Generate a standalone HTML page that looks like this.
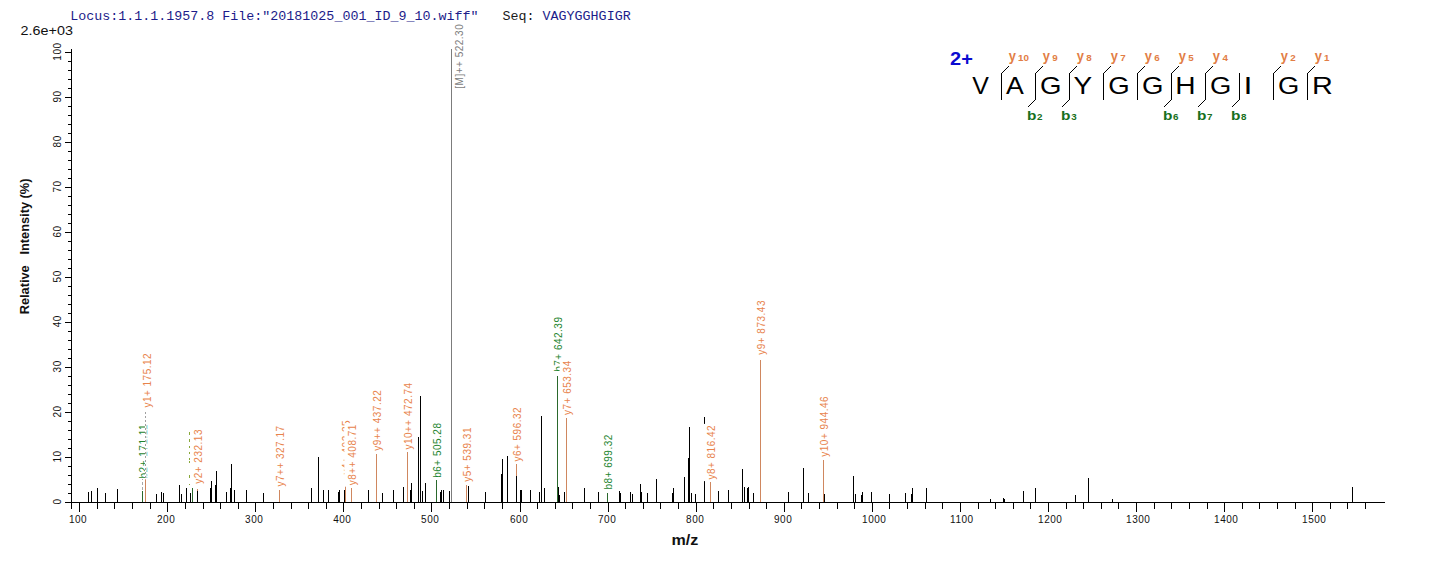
<!DOCTYPE html><html><head><meta charset="utf-8"><title>spectrum</title><style>html,body{margin:0;padding:0;background:#fff;overflow:hidden}svg{display:block}text{font-family:"Liberation Sans",sans-serif}</style></head><body>
<svg width="1436" height="562" viewBox="0 0 1436 562">
<rect width="1436" height="562" fill="#fff"/>
<text transform="translate(70.15,19.8) scale(1.0022,1)" style="font-family:'Liberation Mono',monospace;font-size:13.33px" fill="#1c1c8a" xml:space="preserve">Locus:1.1.1.1957.8 File:"20181025_001_ID_9_10.wiff"   <tspan fill="#1a1a1a">Seq:</tspan> VAGYGGHGIGR</text>
<text transform="translate(20.58,34.90) scale(1.1142,1)" style="font-family:'Liberation Sans',sans-serif;font-size:12.9px;" fill="#111" xml:space="preserve">2.6e+03</text>
<g stroke-width="1" shape-rendering="crispEdges">
<line x1="88.5" y1="502" x2="88.5" y2="491.7" stroke="#000"/>
<line x1="91.5" y1="502" x2="91.5" y2="490.8" stroke="#000"/>
<line x1="97.5" y1="502" x2="97.5" y2="488.1" stroke="#000"/>
<line x1="105.5" y1="502" x2="105.5" y2="493.1" stroke="#000"/>
<line x1="117.5" y1="502" x2="117.5" y2="489.0" stroke="#000"/>
<line x1="142.5" y1="502" x2="142.5" y2="490.8" stroke="#2a682c"/>
<line x1="145.5" y1="502" x2="145.5" y2="478.6" stroke="#cf875f"/>
<line x1="156.5" y1="502" x2="156.5" y2="493.9" stroke="#000"/>
<line x1="161.5" y1="502" x2="161.5" y2="492.1" stroke="#000"/>
<line x1="163.5" y1="502" x2="163.5" y2="493.1" stroke="#000"/>
<line x1="179.5" y1="502" x2="179.5" y2="484.9" stroke="#000"/>
<line x1="181.5" y1="502" x2="181.5" y2="493.9" stroke="#000"/>
<line x1="186.5" y1="502" x2="186.5" y2="488.1" stroke="#000"/>
<line x1="190.5" y1="502" x2="190.5" y2="493.1" stroke="#000"/>
<line x1="192.5" y1="502" x2="192.5" y2="488.1" stroke="#2a682c"/>
<line x1="197.5" y1="502" x2="197.5" y2="488.6" stroke="#cf875f"/>
<line x1="197.5" y1="502" x2="197.5" y2="491.2" stroke="#000"/>
<line x1="210.5" y1="502" x2="210.5" y2="488.1" stroke="#000"/>
<line x1="211.5" y1="502" x2="211.5" y2="480.9" stroke="#000"/>
<line x1="215.5" y1="502" x2="215.5" y2="484.9" stroke="#000"/>
<line x1="216.5" y1="502" x2="216.5" y2="471.0" stroke="#000"/>
<line x1="226.5" y1="502" x2="226.5" y2="492.1" stroke="#000"/>
<line x1="230.5" y1="502" x2="230.5" y2="488.1" stroke="#000"/>
<line x1="231.5" y1="502" x2="231.5" y2="464.2" stroke="#000"/>
<line x1="234.5" y1="502" x2="234.5" y2="489.9" stroke="#000"/>
<line x1="246.5" y1="502" x2="246.5" y2="489.9" stroke="#000"/>
<line x1="263.5" y1="502" x2="263.5" y2="493.1" stroke="#000"/>
<line x1="279.5" y1="502" x2="279.5" y2="489.9" stroke="#cf875f"/>
<line x1="311.5" y1="502" x2="311.5" y2="488.1" stroke="#000"/>
<line x1="318.5" y1="502" x2="318.5" y2="457.1" stroke="#000"/>
<line x1="323.5" y1="502" x2="323.5" y2="489.9" stroke="#000"/>
<line x1="328.5" y1="502" x2="328.5" y2="489.9" stroke="#000"/>
<line x1="338.5" y1="502" x2="338.5" y2="492.1" stroke="#000"/>
<line x1="339.5" y1="502" x2="339.5" y2="489.9" stroke="#000"/>
<line x1="344.5" y1="502" x2="344.5" y2="489.9" stroke="#000"/>
<line x1="345.5" y1="502" x2="345.5" y2="486.3" stroke="#cf875f"/>
<line x1="351.5" y1="502" x2="351.5" y2="488.1" stroke="#cf875f"/>
<line x1="368.5" y1="502" x2="368.5" y2="489.9" stroke="#000"/>
<line x1="376.5" y1="502" x2="376.5" y2="453.9" stroke="#cf875f"/>
<line x1="382.5" y1="502" x2="382.5" y2="493.1" stroke="#000"/>
<line x1="393.5" y1="502" x2="393.5" y2="489.9" stroke="#000"/>
<line x1="403.5" y1="502" x2="403.5" y2="487.2" stroke="#000"/>
<line x1="407.5" y1="502" x2="407.5" y2="451.6" stroke="#cf875f"/>
<line x1="410.5" y1="502" x2="410.5" y2="489.9" stroke="#000"/>
<line x1="411.5" y1="502" x2="411.5" y2="483.1" stroke="#000"/>
<line x1="418.5" y1="502" x2="418.5" y2="437.2" stroke="#000"/>
<line x1="420.5" y1="502" x2="420.5" y2="395.9" stroke="#000"/>
<line x1="422.5" y1="502" x2="422.5" y2="490.8" stroke="#000"/>
<line x1="425.5" y1="502" x2="425.5" y2="483.1" stroke="#000"/>
<line x1="436.5" y1="502" x2="436.5" y2="480.4" stroke="#2a682c"/>
<line x1="440.5" y1="502" x2="440.5" y2="492.1" stroke="#000"/>
<line x1="441.5" y1="502" x2="441.5" y2="489.9" stroke="#000"/>
<line x1="443.5" y1="502" x2="443.5" y2="489.9" stroke="#000"/>
<line x1="449.5" y1="502" x2="449.5" y2="490.8" stroke="#000"/>
<line x1="466.5" y1="502" x2="466.5" y2="484.9" stroke="#cf875f"/>
<line x1="468.5" y1="502" x2="468.5" y2="485.9" stroke="#000"/>
<line x1="485.5" y1="502" x2="485.5" y2="492.1" stroke="#000"/>
<line x1="501.5" y1="502" x2="501.5" y2="474.1" stroke="#000"/>
<line x1="502.5" y1="502" x2="502.5" y2="459.3" stroke="#000"/>
<line x1="507.5" y1="502" x2="507.5" y2="456.1" stroke="#000"/>
<line x1="516.5" y1="502" x2="516.5" y2="463.8" stroke="#cf875f"/>
<line x1="516.5" y1="502" x2="516.5" y2="475.9" stroke="#000"/>
<line x1="520.5" y1="502" x2="520.5" y2="489.9" stroke="#000"/>
<line x1="521.5" y1="502" x2="521.5" y2="489.9" stroke="#000"/>
<line x1="530.5" y1="502" x2="530.5" y2="489.9" stroke="#000"/>
<line x1="539.5" y1="502" x2="539.5" y2="492.1" stroke="#000"/>
<line x1="541.5" y1="502" x2="541.5" y2="416.1" stroke="#000"/>
<line x1="544.5" y1="502" x2="544.5" y2="488.1" stroke="#000"/>
<line x1="557.5" y1="502" x2="557.5" y2="375.6" stroke="#2a682c"/>
<line x1="558.5" y1="502" x2="558.5" y2="487.2" stroke="#000"/>
<line x1="559.5" y1="502" x2="559.5" y2="494.9" stroke="#000"/>
<line x1="564.5" y1="502" x2="564.5" y2="492.1" stroke="#000"/>
<line x1="566.5" y1="502" x2="566.5" y2="418.4" stroke="#cf875f"/>
<line x1="584.5" y1="502" x2="584.5" y2="488.1" stroke="#000"/>
<line x1="598.5" y1="502" x2="598.5" y2="492.1" stroke="#000"/>
<line x1="607.5" y1="502" x2="607.5" y2="492.6" stroke="#2a682c"/>
<line x1="619.5" y1="502" x2="619.5" y2="490.8" stroke="#000"/>
<line x1="620.5" y1="502" x2="620.5" y2="493.1" stroke="#000"/>
<line x1="630.5" y1="502" x2="630.5" y2="492.1" stroke="#000"/>
<line x1="632.5" y1="502" x2="632.5" y2="493.9" stroke="#000"/>
<line x1="640.5" y1="502" x2="640.5" y2="484.1" stroke="#000"/>
<line x1="641.5" y1="502" x2="641.5" y2="492.1" stroke="#000"/>
<line x1="647.5" y1="502" x2="647.5" y2="493.1" stroke="#000"/>
<line x1="656.5" y1="502" x2="656.5" y2="479.1" stroke="#000"/>
<line x1="672.5" y1="502" x2="672.5" y2="493.1" stroke="#000"/>
<line x1="673.5" y1="502" x2="673.5" y2="488.1" stroke="#000"/>
<line x1="684.5" y1="502" x2="684.5" y2="476.9" stroke="#000"/>
<line x1="688.5" y1="502" x2="688.5" y2="457.9" stroke="#000"/>
<line x1="689.5" y1="502" x2="689.5" y2="426.9" stroke="#000"/>
<line x1="691.5" y1="502" x2="691.5" y2="493.1" stroke="#000"/>
<line x1="695.5" y1="502" x2="695.5" y2="493.9" stroke="#000"/>
<line x1="704.5" y1="502" x2="704.5" y2="416.6" stroke="#000"/>
<line x1="710.5" y1="502" x2="710.5" y2="482.2" stroke="#cf875f"/>
<line x1="718.5" y1="502" x2="718.5" y2="490.8" stroke="#000"/>
<line x1="728.5" y1="502" x2="728.5" y2="489.9" stroke="#000"/>
<line x1="742.5" y1="502" x2="742.5" y2="468.8" stroke="#000"/>
<line x1="744.5" y1="502" x2="744.5" y2="487.2" stroke="#000"/>
<line x1="747.5" y1="502" x2="747.5" y2="488.1" stroke="#000"/>
<line x1="748.5" y1="502" x2="748.5" y2="487.2" stroke="#000"/>
<line x1="753.5" y1="502" x2="753.5" y2="493.1" stroke="#000"/>
<line x1="760.5" y1="502" x2="760.5" y2="359.9" stroke="#cf875f"/>
<line x1="788.5" y1="502" x2="788.5" y2="492.1" stroke="#000"/>
<line x1="803.5" y1="502" x2="803.5" y2="467.9" stroke="#000"/>
<line x1="808.5" y1="502" x2="808.5" y2="493.1" stroke="#000"/>
<line x1="823.5" y1="502" x2="823.5" y2="459.8" stroke="#cf875f"/>
<line x1="824.5" y1="502" x2="824.5" y2="493.9" stroke="#000"/>
<line x1="853.5" y1="502" x2="853.5" y2="475.9" stroke="#000"/>
<line x1="855.5" y1="502" x2="855.5" y2="493.9" stroke="#000"/>
<line x1="861.5" y1="502" x2="861.5" y2="494.9" stroke="#000"/>
<line x1="862.5" y1="502" x2="862.5" y2="492.1" stroke="#000"/>
<line x1="871.5" y1="502" x2="871.5" y2="492.1" stroke="#000"/>
<line x1="889.5" y1="502" x2="889.5" y2="493.9" stroke="#000"/>
<line x1="905.5" y1="502" x2="905.5" y2="493.1" stroke="#000"/>
<line x1="911.5" y1="502" x2="911.5" y2="493.9" stroke="#000"/>
<line x1="912.5" y1="502" x2="912.5" y2="488.1" stroke="#000"/>
<line x1="926.5" y1="502" x2="926.5" y2="488.1" stroke="#000"/>
<line x1="990.5" y1="502" x2="990.5" y2="498.9" stroke="#000"/>
<line x1="1003.5" y1="502" x2="1003.5" y2="498.0" stroke="#000"/>
<line x1="1004.5" y1="502" x2="1004.5" y2="498.9" stroke="#000"/>
<line x1="1023.5" y1="502" x2="1023.5" y2="490.8" stroke="#000"/>
<line x1="1035.5" y1="502" x2="1035.5" y2="488.1" stroke="#000"/>
<line x1="1075.5" y1="502" x2="1075.5" y2="494.9" stroke="#000"/>
<line x1="1088.5" y1="502" x2="1088.5" y2="478.2" stroke="#000"/>
<line x1="1112.5" y1="502" x2="1112.5" y2="498.9" stroke="#000"/>
<line x1="1352.5" y1="502" x2="1352.5" y2="487.2" stroke="#000"/>
<line x1="451.5" y1="502" x2="451.5" y2="49" stroke="#7c7c7c"/>
</g>
<g stroke="#000" stroke-width="1" shape-rendering="crispEdges">
<line x1="71.5" y1="49" x2="71.5" y2="509"/>
<line x1="65" y1="502.5" x2="1385" y2="502.5"/>
<line x1="65" y1="52.5" x2="71" y2="52.5"/>
<line x1="65" y1="97.5" x2="71" y2="97.5"/>
<line x1="65" y1="142.5" x2="71" y2="142.5"/>
<line x1="65" y1="187.5" x2="71" y2="187.5"/>
<line x1="65" y1="232.5" x2="71" y2="232.5"/>
<line x1="65" y1="277.5" x2="71" y2="277.5"/>
<line x1="65" y1="322.5" x2="71" y2="322.5"/>
<line x1="65" y1="367.5" x2="71" y2="367.5"/>
<line x1="65" y1="412.5" x2="71" y2="412.5"/>
<line x1="65" y1="457.5" x2="71" y2="457.5"/>
<line x1="65" y1="502.5" x2="71" y2="502.5"/>
<line x1="68" y1="52.5" x2="71" y2="52.5"/>
<line x1="68" y1="61.5" x2="71" y2="61.5"/>
<line x1="68" y1="70.5" x2="71" y2="70.5"/>
<line x1="68" y1="79.5" x2="71" y2="79.5"/>
<line x1="68" y1="88.5" x2="71" y2="88.5"/>
<line x1="68" y1="97.5" x2="71" y2="97.5"/>
<line x1="68" y1="106.5" x2="71" y2="106.5"/>
<line x1="68" y1="115.5" x2="71" y2="115.5"/>
<line x1="68" y1="124.5" x2="71" y2="124.5"/>
<line x1="68" y1="133.5" x2="71" y2="133.5"/>
<line x1="68" y1="142.5" x2="71" y2="142.5"/>
<line x1="68" y1="151.5" x2="71" y2="151.5"/>
<line x1="68" y1="160.5" x2="71" y2="160.5"/>
<line x1="68" y1="169.5" x2="71" y2="169.5"/>
<line x1="68" y1="178.5" x2="71" y2="178.5"/>
<line x1="68" y1="187.5" x2="71" y2="187.5"/>
<line x1="68" y1="196.5" x2="71" y2="196.5"/>
<line x1="68" y1="205.5" x2="71" y2="205.5"/>
<line x1="68" y1="214.5" x2="71" y2="214.5"/>
<line x1="68" y1="223.5" x2="71" y2="223.5"/>
<line x1="68" y1="232.5" x2="71" y2="232.5"/>
<line x1="68" y1="241.5" x2="71" y2="241.5"/>
<line x1="68" y1="250.5" x2="71" y2="250.5"/>
<line x1="68" y1="259.5" x2="71" y2="259.5"/>
<line x1="68" y1="268.5" x2="71" y2="268.5"/>
<line x1="68" y1="277.5" x2="71" y2="277.5"/>
<line x1="68" y1="286.5" x2="71" y2="286.5"/>
<line x1="68" y1="295.5" x2="71" y2="295.5"/>
<line x1="68" y1="304.5" x2="71" y2="304.5"/>
<line x1="68" y1="313.5" x2="71" y2="313.5"/>
<line x1="68" y1="322.5" x2="71" y2="322.5"/>
<line x1="68" y1="331.5" x2="71" y2="331.5"/>
<line x1="68" y1="340.5" x2="71" y2="340.5"/>
<line x1="68" y1="349.5" x2="71" y2="349.5"/>
<line x1="68" y1="358.5" x2="71" y2="358.5"/>
<line x1="68" y1="367.5" x2="71" y2="367.5"/>
<line x1="68" y1="376.5" x2="71" y2="376.5"/>
<line x1="68" y1="385.5" x2="71" y2="385.5"/>
<line x1="68" y1="394.5" x2="71" y2="394.5"/>
<line x1="68" y1="403.5" x2="71" y2="403.5"/>
<line x1="68" y1="412.5" x2="71" y2="412.5"/>
<line x1="68" y1="421.5" x2="71" y2="421.5"/>
<line x1="68" y1="430.5" x2="71" y2="430.5"/>
<line x1="68" y1="439.5" x2="71" y2="439.5"/>
<line x1="68" y1="448.5" x2="71" y2="448.5"/>
<line x1="68" y1="457.5" x2="71" y2="457.5"/>
<line x1="68" y1="466.5" x2="71" y2="466.5"/>
<line x1="68" y1="475.5" x2="71" y2="475.5"/>
<line x1="68" y1="484.5" x2="71" y2="484.5"/>
<line x1="68" y1="493.5" x2="71" y2="493.5"/>
<line x1="79.5" y1="503" x2="79.5" y2="512"/>
<line x1="97.5" y1="503" x2="97.5" y2="509"/>
<line x1="114.5" y1="503" x2="114.5" y2="509"/>
<line x1="132.5" y1="503" x2="132.5" y2="509"/>
<line x1="150.5" y1="503" x2="150.5" y2="509"/>
<line x1="167.5" y1="503" x2="167.5" y2="512"/>
<line x1="185.5" y1="503" x2="185.5" y2="509"/>
<line x1="203.5" y1="503" x2="203.5" y2="509"/>
<line x1="220.5" y1="503" x2="220.5" y2="509"/>
<line x1="238.5" y1="503" x2="238.5" y2="509"/>
<line x1="255.5" y1="503" x2="255.5" y2="512"/>
<line x1="273.5" y1="503" x2="273.5" y2="509"/>
<line x1="291.5" y1="503" x2="291.5" y2="509"/>
<line x1="308.5" y1="503" x2="308.5" y2="509"/>
<line x1="326.5" y1="503" x2="326.5" y2="509"/>
<line x1="343.5" y1="503" x2="343.5" y2="512"/>
<line x1="361.5" y1="503" x2="361.5" y2="509"/>
<line x1="379.5" y1="503" x2="379.5" y2="509"/>
<line x1="396.5" y1="503" x2="396.5" y2="509"/>
<line x1="414.5" y1="503" x2="414.5" y2="509"/>
<line x1="431.5" y1="503" x2="431.5" y2="512"/>
<line x1="449.5" y1="503" x2="449.5" y2="509"/>
<line x1="467.5" y1="503" x2="467.5" y2="509"/>
<line x1="484.5" y1="503" x2="484.5" y2="509"/>
<line x1="502.5" y1="503" x2="502.5" y2="509"/>
<line x1="520.5" y1="503" x2="520.5" y2="512"/>
<line x1="537.5" y1="503" x2="537.5" y2="509"/>
<line x1="555.5" y1="503" x2="555.5" y2="509"/>
<line x1="572.5" y1="503" x2="572.5" y2="509"/>
<line x1="590.5" y1="503" x2="590.5" y2="509"/>
<line x1="608.5" y1="503" x2="608.5" y2="512"/>
<line x1="625.5" y1="503" x2="625.5" y2="509"/>
<line x1="643.5" y1="503" x2="643.5" y2="509"/>
<line x1="660.5" y1="503" x2="660.5" y2="509"/>
<line x1="678.5" y1="503" x2="678.5" y2="509"/>
<line x1="696.5" y1="503" x2="696.5" y2="512"/>
<line x1="713.5" y1="503" x2="713.5" y2="509"/>
<line x1="731.5" y1="503" x2="731.5" y2="509"/>
<line x1="749.5" y1="503" x2="749.5" y2="509"/>
<line x1="766.5" y1="503" x2="766.5" y2="509"/>
<line x1="784.5" y1="503" x2="784.5" y2="512"/>
<line x1="801.5" y1="503" x2="801.5" y2="509"/>
<line x1="819.5" y1="503" x2="819.5" y2="509"/>
<line x1="837.5" y1="503" x2="837.5" y2="509"/>
<line x1="854.5" y1="503" x2="854.5" y2="509"/>
<line x1="872.5" y1="503" x2="872.5" y2="512"/>
<line x1="889.5" y1="503" x2="889.5" y2="509"/>
<line x1="907.5" y1="503" x2="907.5" y2="509"/>
<line x1="925.5" y1="503" x2="925.5" y2="509"/>
<line x1="942.5" y1="503" x2="942.5" y2="509"/>
<line x1="960.5" y1="503" x2="960.5" y2="512"/>
<line x1="978.5" y1="503" x2="978.5" y2="509"/>
<line x1="995.5" y1="503" x2="995.5" y2="509"/>
<line x1="1013.5" y1="503" x2="1013.5" y2="509"/>
<line x1="1030.5" y1="503" x2="1030.5" y2="509"/>
<line x1="1048.5" y1="503" x2="1048.5" y2="512"/>
<line x1="1066.5" y1="503" x2="1066.5" y2="509"/>
<line x1="1083.5" y1="503" x2="1083.5" y2="509"/>
<line x1="1101.5" y1="503" x2="1101.5" y2="509"/>
<line x1="1118.5" y1="503" x2="1118.5" y2="509"/>
<line x1="1136.5" y1="503" x2="1136.5" y2="512"/>
<line x1="1154.5" y1="503" x2="1154.5" y2="509"/>
<line x1="1171.5" y1="503" x2="1171.5" y2="509"/>
<line x1="1189.5" y1="503" x2="1189.5" y2="509"/>
<line x1="1207.5" y1="503" x2="1207.5" y2="509"/>
<line x1="1224.5" y1="503" x2="1224.5" y2="512"/>
<line x1="1242.5" y1="503" x2="1242.5" y2="509"/>
<line x1="1259.5" y1="503" x2="1259.5" y2="509"/>
<line x1="1277.5" y1="503" x2="1277.5" y2="509"/>
<line x1="1295.5" y1="503" x2="1295.5" y2="509"/>
<line x1="1312.5" y1="503" x2="1312.5" y2="512"/>
<line x1="1330.5" y1="503" x2="1330.5" y2="509"/>
<line x1="1347.5" y1="503" x2="1347.5" y2="509"/>
<line x1="1365.5" y1="503" x2="1365.5" y2="509"/>
</g>
<g style="font-size:10.0px;letter-spacing:0.5px" fill="#111">
<text transform="translate(60.6,60.63) rotate(-90)">100</text>
<text transform="translate(60.6,102.45) rotate(-90)">90</text>
<text transform="translate(60.6,147.43) rotate(-90)">80</text>
<text transform="translate(60.6,192.47) rotate(-90)">70</text>
<text transform="translate(60.6,237.47) rotate(-90)">60</text>
<text transform="translate(60.6,282.42) rotate(-90)">50</text>
<text transform="translate(60.6,327.33) rotate(-90)">40</text>
<text transform="translate(60.6,372.41) rotate(-90)">30</text>
<text transform="translate(60.6,417.47) rotate(-90)">20</text>
<text transform="translate(60.6,462.60) rotate(-90)">10</text>
<text transform="translate(60.6,504.38) rotate(-90)">0</text>
<text x="68.92" y="522.5">100</text>
<text x="157.05" y="522.5">200</text>
<text x="245.11" y="522.5">300</text>
<text x="333.19" y="522.5">400</text>
<text x="421.10" y="522.5">500</text>
<text x="510.05" y="522.5">600</text>
<text x="598.05" y="522.5">700</text>
<text x="686.09" y="522.5">800</text>
<text x="774.07" y="522.5">900</text>
<text x="862.09" y="522.5">1000</text>
<text x="950.09" y="522.5">1100</text>
<text x="1038.09" y="522.5">1200</text>
<text x="1126.09" y="522.5">1300</text>
<text x="1214.09" y="522.5">1400</text>
<text x="1302.09" y="522.5">1500</text>
</g>
<text transform="translate(28.6,314.36) rotate(-90)" style="font-size:12.8px;font-weight:bold" fill="#111" xml:space="preserve">Relative   Intensity (%)</text>
<text transform="translate(671.44,544.90) scale(1.0735,1)" style="font-family:'Liberation Sans',sans-serif;font-size:15px;font-weight:bold;" fill="#111" xml:space="preserve">m/z</text>
<g style="font-size:10.0px;letter-spacing:0.5px">
<rect x="135.7" y="422.1" width="13" height="57.2" fill="#fff"/><text transform="translate(147.20,478.44) rotate(-90)" fill="#1e8530">b2+ 171.11</text>
<rect x="190.0" y="428.0" width="13" height="57.3" fill="#fff"/><text transform="translate(201.50,483.82) rotate(-90)" fill="#e8834c">y2+ 232.13</text>
<rect x="272.2" y="424.4" width="13" height="63.6" fill="#fff"/><text transform="translate(283.70,486.52) rotate(-90)" fill="#e8834c">y7++ 327.17</text>
<rect x="338.3" y="418.8" width="13" height="57.3" fill="#fff"/><text transform="translate(349.80,474.62) rotate(-90)" fill="#e8834c">y4+ 402.25</text>
<rect x="344.4" y="423.1" width="13" height="63.6" fill="#fff"/><text transform="translate(355.90,485.22) rotate(-90)" fill="#e8834c">y8++ 408.71</text>
<rect x="369.6" y="388.7" width="13" height="63.6" fill="#fff"/><text transform="translate(381.10,450.82) rotate(-90)" fill="#e8834c">y9++ 437.22</text>
<rect x="400.4" y="381.3" width="13" height="69.8" fill="#fff"/><text transform="translate(411.90,449.62) rotate(-90)" fill="#e8834c">y10++ 472.74</text>
<rect x="429.5" y="421.5" width="13" height="57.2" fill="#fff"/><text transform="translate(441.00,477.84) rotate(-90)" fill="#1e8530">b6+ 505.28</text>
<rect x="459.3" y="426.0" width="13" height="57.3" fill="#fff"/><text transform="translate(470.80,481.82) rotate(-90)" fill="#e8834c">y5+ 539.31</text>
<rect x="509.4" y="405.9" width="13" height="57.2" fill="#fff"/><text transform="translate(520.90,461.62) rotate(-90)" fill="#e8834c">y6+ 596.32</text>
<rect x="550.4" y="315.5" width="13" height="57.2" fill="#fff"/><text transform="translate(561.90,371.84) rotate(-90)" fill="#1e8530">b7+ 642.39</text>
<rect x="559.6" y="359.1" width="13" height="57.4" fill="#fff"/><text transform="translate(571.10,415.02) rotate(-90)" fill="#e8834c">y7+ 653.34</text>
<rect x="600.4" y="433.2" width="13" height="57.2" fill="#fff"/><text transform="translate(611.90,489.54) rotate(-90)" fill="#1e8530">b8+ 699.32</text>
<rect x="703.3" y="423.9" width="13" height="57.2" fill="#fff"/><text transform="translate(714.80,479.62) rotate(-90)" fill="#e8834c">y8+ 816.42</text>
<rect x="753.6" y="299.0" width="13" height="57.3" fill="#fff"/><text transform="translate(765.10,354.82) rotate(-90)" fill="#e8834c">y9+ 873.43</text>
<rect x="816.4" y="394.8" width="13" height="63.4" fill="#fff"/><text transform="translate(827.90,456.72) rotate(-90)" fill="#e8834c">y10+ 944.46</text>
<line x1="189.5" y1="432.0" x2="189.5" y2="435.0" stroke="#88a83a" shape-rendering="crispEdges"/>
<line x1="189.5" y1="439.0" x2="189.5" y2="441.5" stroke="#88a83a" shape-rendering="crispEdges"/>
<line x1="189.5" y1="445.5" x2="189.5" y2="448.0" stroke="#88a83a" shape-rendering="crispEdges"/>
<line x1="189.5" y1="451.5" x2="189.5" y2="454.0" stroke="#88a83a" shape-rendering="crispEdges"/>
<line x1="189.5" y1="457.5" x2="189.5" y2="460.0" stroke="#88a83a" shape-rendering="crispEdges"/>
<line x1="189.5" y1="461.0" x2="189.5" y2="463.0" stroke="#88a83a" shape-rendering="crispEdges"/>
<line x1="189.5" y1="475.0" x2="189.5" y2="477.5" stroke="#88a83a" shape-rendering="crispEdges"/>
<line x1="189.5" y1="483.5" x2="189.5" y2="485.0" stroke="#88a83a" shape-rendering="crispEdges"/>
<rect x="145" y="409" width="1.6" height="69" fill="#fff"/>
<line x1="145.5" y1="478" x2="145.5" y2="410" stroke="#a0a0a0" stroke-dasharray="2,2" shape-rendering="crispEdges"/>
<line x1="142.5" y1="490" x2="142.5" y2="479" stroke="#a8a8a8" stroke-dasharray="3,2" shape-rendering="crispEdges"/>
<rect x="139.4" y="351.9" width="13" height="57.2" fill="#fff"/><text transform="translate(150.90,407.62) rotate(-90)" fill="#e8834c">y1+ 175.12</text>
<text transform="translate(463.00,88.71) rotate(-90)" fill="#7c7c7c">[M]++ 522.30</text>
</g>
<text transform="translate(950.11,64.50) scale(1.1429,1)" style="font-family:'Liberation Sans',sans-serif;font-size:17.5px;font-weight:bold;" fill="#0b0bd0" xml:space="preserve">2+</text>
<text transform="translate(972.19,93.80) scale(1.0170,1)" style="font-family:'Liberation Sans',sans-serif;font-size:24.5px;" fill="#000" xml:space="preserve">V</text>
<text transform="translate(1006.05,93.80) scale(1.0895,1)" style="font-family:'Liberation Sans',sans-serif;font-size:24.5px;" fill="#000" xml:space="preserve">A</text>
<text transform="translate(1040.01,93.80) scale(1.1254,1)" style="font-family:'Liberation Sans',sans-serif;font-size:24.5px;" fill="#000" xml:space="preserve">G</text>
<text transform="translate(1073.49,93.80) scale(1.1399,1)" style="font-family:'Liberation Sans',sans-serif;font-size:24.5px;" fill="#000" xml:space="preserve">Y</text>
<text transform="translate(1108.21,93.80) scale(1.1254,1)" style="font-family:'Liberation Sans',sans-serif;font-size:24.5px;" fill="#000" xml:space="preserve">G</text>
<text transform="translate(1142.11,93.80) scale(1.1254,1)" style="font-family:'Liberation Sans',sans-serif;font-size:24.5px;" fill="#000" xml:space="preserve">G</text>
<text transform="translate(1175.29,93.80) scale(1.1472,1)" style="font-family:'Liberation Sans',sans-serif;font-size:24.5px;" fill="#000" xml:space="preserve">H</text>
<text transform="translate(1210.12,93.80) scale(1.1191,1)" style="font-family:'Liberation Sans',sans-serif;font-size:24.5px;" fill="#000" xml:space="preserve">G</text>
<text transform="translate(1243.53,93.80) scale(1.3130,1)" style="font-family:'Liberation Sans',sans-serif;font-size:24.5px;" fill="#000" xml:space="preserve">I</text>
<text transform="translate(1278.02,93.80) scale(1.1191,1)" style="font-family:'Liberation Sans',sans-serif;font-size:24.5px;" fill="#000" xml:space="preserve">G</text>
<text transform="translate(1311.94,93.80) scale(1.1755,1)" style="font-family:'Liberation Sans',sans-serif;font-size:24.5px;" fill="#000" xml:space="preserve">R</text>
<path fill="#000" d="M1001 73h1v27h-1zM1002 72h1v1h-1zM1003 71h1v1h-1zM1004 70h1v1h-1zM1005 69h1v1h-1zM1006 68h1v1h-1zM1007 67h1v1h-1zM1008 66h1v1h-1zM1035 73h1v27h-1zM1036 72h1v1h-1zM1037 71h1v1h-1zM1038 70h1v1h-1zM1039 69h1v1h-1zM1040 68h1v1h-1zM1041 67h1v1h-1zM1042 66h1v1h-1zM1034 100h1v1h-1zM1033 101h1v1h-1zM1032 102h1v1h-1zM1031 103h1v1h-1zM1030 104h1v1h-1zM1029 105h1v1h-1zM1028 106h1v1h-1zM1069 73h1v27h-1zM1070 72h1v1h-1zM1071 71h1v1h-1zM1072 70h1v1h-1zM1073 69h1v1h-1zM1074 68h1v1h-1zM1075 67h1v1h-1zM1076 66h1v1h-1zM1068 100h1v1h-1zM1067 101h1v1h-1zM1066 102h1v1h-1zM1065 103h1v1h-1zM1064 104h1v1h-1zM1063 105h1v1h-1zM1062 106h1v1h-1zM1103 73h1v27h-1zM1104 72h1v1h-1zM1105 71h1v1h-1zM1106 70h1v1h-1zM1107 69h1v1h-1zM1108 68h1v1h-1zM1109 67h1v1h-1zM1110 66h1v1h-1zM1137 73h1v27h-1zM1138 72h1v1h-1zM1139 71h1v1h-1zM1140 70h1v1h-1zM1141 69h1v1h-1zM1142 68h1v1h-1zM1143 67h1v1h-1zM1144 66h1v1h-1zM1171 73h1v27h-1zM1172 72h1v1h-1zM1173 71h1v1h-1zM1174 70h1v1h-1zM1175 69h1v1h-1zM1176 68h1v1h-1zM1177 67h1v1h-1zM1178 66h1v1h-1zM1170 100h1v1h-1zM1169 101h1v1h-1zM1168 102h1v1h-1zM1167 103h1v1h-1zM1166 104h1v1h-1zM1165 105h1v1h-1zM1164 106h1v1h-1zM1205 73h1v27h-1zM1206 72h1v1h-1zM1207 71h1v1h-1zM1208 70h1v1h-1zM1209 69h1v1h-1zM1210 68h1v1h-1zM1211 67h1v1h-1zM1212 66h1v1h-1zM1204 100h1v1h-1zM1203 101h1v1h-1zM1202 102h1v1h-1zM1201 103h1v1h-1zM1200 104h1v1h-1zM1199 105h1v1h-1zM1198 106h1v1h-1zM1239 73h1v27h-1zM1238 100h1v1h-1zM1237 101h1v1h-1zM1236 102h1v1h-1zM1235 103h1v1h-1zM1234 104h1v1h-1zM1233 105h1v1h-1zM1232 106h1v1h-1zM1273 73h1v27h-1zM1274 72h1v1h-1zM1275 71h1v1h-1zM1276 70h1v1h-1zM1277 69h1v1h-1zM1278 68h1v1h-1zM1279 67h1v1h-1zM1280 66h1v1h-1zM1307 73h1v27h-1zM1308 72h1v1h-1zM1309 71h1v1h-1zM1310 70h1v1h-1zM1311 69h1v1h-1zM1312 68h1v1h-1zM1313 67h1v1h-1zM1314 66h1v1h-1z"/>
<text transform="translate(1008.70,60.80) scale(0.8595,1)" style="font-family:'Liberation Sans',sans-serif;font-size:15px;font-weight:bold;" fill="#e27d45" xml:space="preserve">y</text>
<text x="1017.98" y="60.90" style="font-family:'Liberation Sans',sans-serif;font-size:9.8px;font-weight:bold;" fill="#e27d45" xml:space="preserve">10</text>
<text transform="translate(1042.70,60.80) scale(0.8595,1)" style="font-family:'Liberation Sans',sans-serif;font-size:15px;font-weight:bold;" fill="#e27d45" xml:space="preserve">y</text>
<text x="1052.26" y="60.90" style="font-family:'Liberation Sans',sans-serif;font-size:9.8px;font-weight:bold;" fill="#e27d45" xml:space="preserve">9</text>
<text transform="translate(1026.88,119.90) scale(1.1552,1)" style="font-family:'Liberation Sans',sans-serif;font-size:13.4px;font-weight:bold;" fill="#187020" xml:space="preserve">b</text>
<text x="1037.06" y="119.90" style="font-family:'Liberation Sans',sans-serif;font-size:9.8px;font-weight:bold;" fill="#187020" xml:space="preserve">2</text>
<text transform="translate(1076.70,60.80) scale(0.8595,1)" style="font-family:'Liberation Sans',sans-serif;font-size:15px;font-weight:bold;" fill="#e27d45" xml:space="preserve">y</text>
<text x="1086.29" y="60.90" style="font-family:'Liberation Sans',sans-serif;font-size:9.8px;font-weight:bold;" fill="#e27d45" xml:space="preserve">8</text>
<text transform="translate(1060.88,119.90) scale(1.1552,1)" style="font-family:'Liberation Sans',sans-serif;font-size:13.4px;font-weight:bold;" fill="#187020" xml:space="preserve">b</text>
<text x="1071.18" y="119.90" style="font-family:'Liberation Sans',sans-serif;font-size:9.8px;font-weight:bold;" fill="#187020" xml:space="preserve">3</text>
<text transform="translate(1110.70,60.80) scale(0.8595,1)" style="font-family:'Liberation Sans',sans-serif;font-size:15px;font-weight:bold;" fill="#e27d45" xml:space="preserve">y</text>
<text x="1120.18" y="60.90" style="font-family:'Liberation Sans',sans-serif;font-size:9.8px;font-weight:bold;" fill="#e27d45" xml:space="preserve">7</text>
<text transform="translate(1144.70,60.80) scale(0.8595,1)" style="font-family:'Liberation Sans',sans-serif;font-size:15px;font-weight:bold;" fill="#e27d45" xml:space="preserve">y</text>
<text x="1154.24" y="60.90" style="font-family:'Liberation Sans',sans-serif;font-size:9.8px;font-weight:bold;" fill="#e27d45" xml:space="preserve">6</text>
<text transform="translate(1178.70,60.80) scale(0.8595,1)" style="font-family:'Liberation Sans',sans-serif;font-size:15px;font-weight:bold;" fill="#e27d45" xml:space="preserve">y</text>
<text x="1188.30" y="60.90" style="font-family:'Liberation Sans',sans-serif;font-size:9.8px;font-weight:bold;" fill="#e27d45" xml:space="preserve">5</text>
<text transform="translate(1162.88,119.90) scale(1.1552,1)" style="font-family:'Liberation Sans',sans-serif;font-size:13.4px;font-weight:bold;" fill="#187020" xml:space="preserve">b</text>
<text x="1173.04" y="119.90" style="font-family:'Liberation Sans',sans-serif;font-size:9.8px;font-weight:bold;" fill="#187020" xml:space="preserve">6</text>
<text transform="translate(1212.70,60.80) scale(0.8595,1)" style="font-family:'Liberation Sans',sans-serif;font-size:15px;font-weight:bold;" fill="#e27d45" xml:space="preserve">y</text>
<text x="1222.45" y="60.90" style="font-family:'Liberation Sans',sans-serif;font-size:9.8px;font-weight:bold;" fill="#e27d45" xml:space="preserve">4</text>
<text transform="translate(1196.88,119.90) scale(1.1552,1)" style="font-family:'Liberation Sans',sans-serif;font-size:13.4px;font-weight:bold;" fill="#187020" xml:space="preserve">b</text>
<text x="1206.98" y="119.90" style="font-family:'Liberation Sans',sans-serif;font-size:9.8px;font-weight:bold;" fill="#187020" xml:space="preserve">7</text>
<text transform="translate(1230.88,119.90) scale(1.1552,1)" style="font-family:'Liberation Sans',sans-serif;font-size:13.4px;font-weight:bold;" fill="#187020" xml:space="preserve">b</text>
<text x="1241.09" y="119.90" style="font-family:'Liberation Sans',sans-serif;font-size:9.8px;font-weight:bold;" fill="#187020" xml:space="preserve">8</text>
<text transform="translate(1280.70,60.80) scale(0.8595,1)" style="font-family:'Liberation Sans',sans-serif;font-size:15px;font-weight:bold;" fill="#e27d45" xml:space="preserve">y</text>
<text x="1290.26" y="60.90" style="font-family:'Liberation Sans',sans-serif;font-size:9.8px;font-weight:bold;" fill="#e27d45" xml:space="preserve">2</text>
<text transform="translate(1314.70,60.80) scale(0.8595,1)" style="font-family:'Liberation Sans',sans-serif;font-size:15px;font-weight:bold;" fill="#e27d45" xml:space="preserve">y</text>
<text x="1323.98" y="60.90" style="font-family:'Liberation Sans',sans-serif;font-size:9.8px;font-weight:bold;" fill="#e27d45" xml:space="preserve">1</text>
</svg></body></html>
